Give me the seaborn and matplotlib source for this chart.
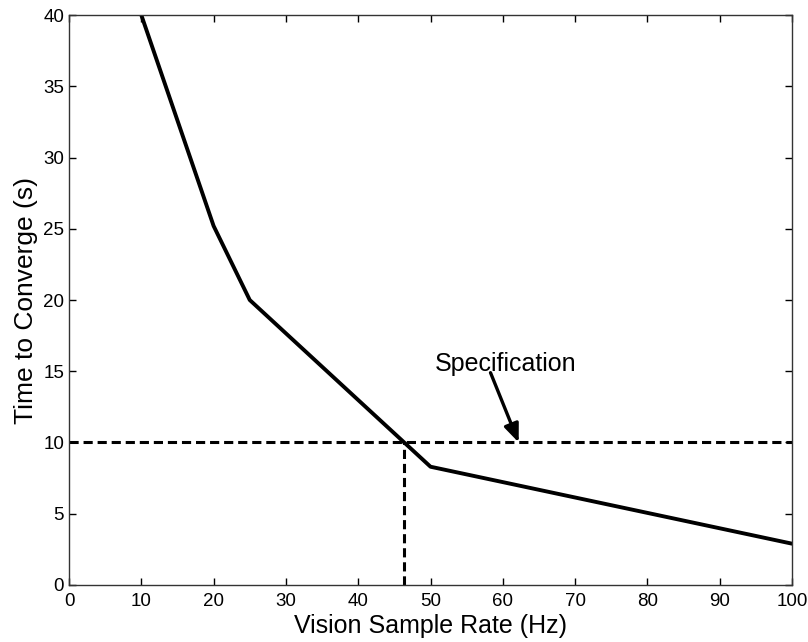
import matplotlib
matplotlib.use("Agg")
import matplotlib.pyplot as plt
import seaborn as sns
import pandas as pd

# Data
rate_hz = [10, 20, 25, 50, 100]
time_s = [40, 25.2, 20, 8.3, 2.9]
spec_time = 10
spec_rate = 46.4

sns.set_style("ticks")
plt.rcParams['font.family'] = ['Liberation Sans', 'DejaVu Sans']
plt.rcParams['text.color'] = 'black'
plt.rcParams['xtick.color'] = 'black'
plt.rcParams['ytick.color'] = 'black'
plt.rcParams['axes.labelcolor'] = 'black'

df = pd.DataFrame({"rate": rate_hz, "time": time_s})

fig = plt.figure(figsize=(8.08, 6.42), dpi=100)
ax = fig.add_axes([0.0854, 0.0888, 0.8948, 0.8878])

sns.lineplot(data=df, x="rate", y="time", ax=ax, color="black", linewidth=2.8,
             sort=False)
ax.plot([0, 100], [spec_time, spec_time], color="black", linestyle=(0, (3, 1.6)), linewidth=2.2)
ax.plot([spec_rate, spec_rate], [0, spec_time], color="black", linestyle=(0, (3, 1.6)), linewidth=2.2)

ax.text(60.4, 15.5, "Specification", ha="center", va="center", fontsize=18)
ax.annotate("", xy=(62.2, 10.0), xytext=(58.3, 14.9),
            arrowprops=dict(arrowstyle="-|>,head_length=1.1,head_width=0.45",
                            color="black", lw=2.4, shrinkA=0, shrinkB=0))

ax.set_xlim(0, 100)
ax.set_ylim(0, 40)
ax.set_xticks(range(0, 101, 10))
ax.set_yticks(range(0, 41, 5))
ax.tick_params(direction="in", length=5, width=1, labelsize=13.5, top=True, right=True)
ax.tick_params(axis="x", pad=6)
for s in ax.spines.values():
    s.set_visible(True)
    s.set_linewidth(1)
    s.set_color("#333333")
ax.set_xlabel("Vision Sample Rate (Hz)", fontsize=18, labelpad=3)
ax.set_ylabel("Time to Converge (s)", fontsize=19, labelpad=4)

fig.savefig("out.png", dpi=100)
